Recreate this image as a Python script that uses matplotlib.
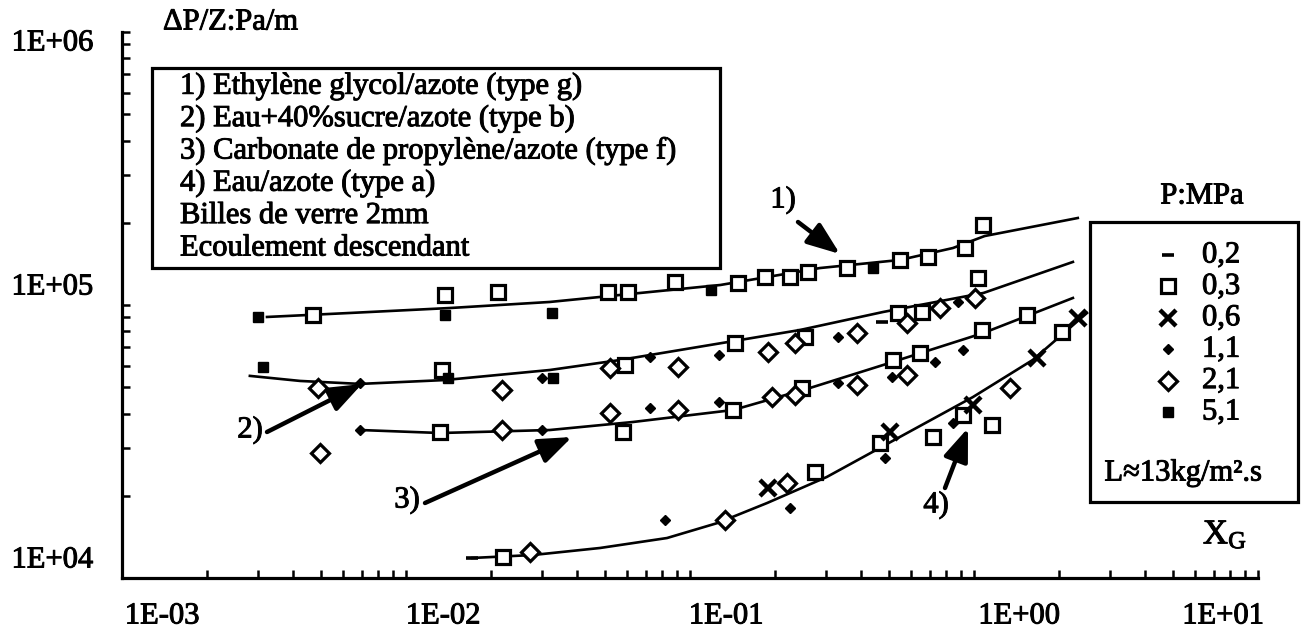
import numpy as np
import matplotlib
matplotlib.use('Agg')
import matplotlib.pyplot as plt
import matplotlib.transforms as mtransforms
import matplotlib.patheffects as pe
from matplotlib.patches import Rectangle
from matplotlib.lines import Line2D

plt.rcParams['font.family'] = ['Liberation Serif', 'DejaVu Serif']
plt.rcParams['mathtext.fontset'] = 'custom'
plt.rcParams['mathtext.rm'] = 'Liberation Serif'
plt.rcParams['mathtext.it'] = 'Liberation Serif:italic'

W, H = 1305, 633
FS = 22
# scanned print looks a bit heavier than a plain serif
INK = [pe.withStroke(linewidth=0.7, foreground='k')]

# pressure classes P (MPa), one marker per class
pressures = ['0,2', '0,3', '0,6', '1,1', '2,1', '5,1']
styles = {
    '0,2': dict(marker='_', ms=9, mew=2.6, mfc='k', mec='k'),
    '0,3': dict(marker='s', ms=10, mew=2.3, mfc='white', mec='k'),
    '0,6': dict(marker='x', ms=12, mew=3.2, mec='k'),
    '1,1': dict(marker='D', ms=5, mew=1, mfc='k', mec='k'),
    '2,1': dict(marker='D', ms=9, mew=2.3, mfc='white', mec='k'),
    '5,1': dict(marker='s', ms=7, mew=1, mfc='k', mec='k'),
}

# 1) ethylene glycol / azote
eg_x = [0.00301, 0.00470, 0.0137, 0.0137, 0.0211, 0.0327, 0.0514, 0.0605, 0.0885, 0.119,
        0.148, 0.184, 0.225, 0.260, 0.357, 0.441, 0.548, 0.689, 0.929, 1.08]
eg_y = [90400, 91900, 108800, 91900, 111600, 93500, 111600, 111600, 121400, 113500,
        120400, 126600, 126600, 132100, 136600, 136600, 146200, 149900, 161700, 196300]
eg_p = ['5,1', '0,3', '0,3', '5,1', '0,3', '5,1', '0,3', '0,3', '0,3', '5,1',
        '0,3', '0,3', '0,3', '0,3', '0,3', '5,1', '0,3', '0,3', '0,3', '0,3']
eg_fit_x = [0.00324, 0.00635, 0.0143, 0.0321, 0.0723, 0.128, 0.287, 0.548, 0.843, 1.09, 2.32]
eg_fit_y = [90400, 93500, 97500, 102600, 111600, 118400, 136600, 146200, 161700, 178900, 208300]

# 2) eau + 40% sucre / azote
su_x = [0.00314, 0.00490, 0.00498, 0.00689, 0.0134, 0.0141, 0.0218, 0.0301, 0.0330, 0.0522,
        0.0590, 0.0723, 0.0908, 0.126, 0.144, 0.188, 0.234, 0.254, 0.332, 0.387,
        0.474, 0.540, 0.581, 0.656, 0.759, 0.879, 1.01, 1.03]
su_y = [59300, 49700, 28700, 51800, 57800, 54000, 48800, 54000, 54000, 58800,
        60300, 64500, 59300, 65600, 72600, 67300, 72600, 76400, 76400, 79000,
        86600, 93500, 85900, 94300, 97500, 102600, 106100, 125600]
su_p = ['5,1', '2,1', '2,1', '1,1', '0,3', '5,1', '2,1', '1,1', '5,1', '2,1',
        '0,3', '1,1', '2,1', '1,1', '0,3', '2,1', '2,1', '0,3', '1,1', '2,1',
        '0,2', '0,3', '2,1', '0,3', '2,1', '1,1', '2,1', '0,3']
su_fit_x = [0.00282, 0.00424, 0.00689, 0.0137, 0.0321, 0.0568, 0.118, 0.244, 0.479, 1.08, 2.23]
su_fit_y = [55000, 52700, 51400, 53100, 57800, 62900, 71400, 81000, 94300, 110700, 143800]

# 3) carbonate de propylene / azote
ca_x = [0.00689, 0.0132, 0.0218, 0.0301, 0.0522, 0.0581, 0.0723, 0.0908, 0.126, 0.142,
        0.195, 0.234, 0.248, 0.332, 0.387, 0.519, 0.514, 0.581, 0.646, 0.730,
        0.914, 1.07, 1.54]
ca_y = [34840, 34260, 34840, 34840, 40220, 34260, 41950, 41250, 44100, 41250,
        46000, 46800, 49700, 51800, 50900, 62900, 54500, 55400, 66700, 61800,
        68400, 81000, 91900]
ca_p = ['1,1', '0,3', '2,1', '1,1', '2,1', '0,3', '1,1', '2,1', '1,1', '0,3',
        '2,1', '2,1', '0,3', '1,1', '2,1', '0,3', '1,1', '2,1', '0,3', '1,1',
        '1,1', '0,3', '0,3']
ca_fit_x = [0.00689, 0.0132, 0.0321, 0.0630, 0.142, 0.265, 0.479, 1.08, 2.23]
ca_fit_y = [34840, 33970, 34840, 37280, 41250, 49700, 60300, 79000, 106100]

# 4) eau / azote
ea_x = [0.0171, 0.0220, 0.0274, 0.0817, 0.133, 0.188, 0.220, 0.225, 0.275, 0.467,
        0.506, 0.486, 0.718, 0.843, 0.914, 0.991, 1.16, 1.34, 1.67, 2.04, 2.32]
ea_y = [11840, 11940, 12450, 16310, 16310, 21360, 22280, 18050, 24450, 31230,
        34260, 27520, 32850, 36970, 39540, 43000, 36340, 49700, 63900, 79600, 89600]
ea_p = ['0,2', '0,3', '2,1', '1,1', '2,1', '0,6', '2,1', '1,1', '0,3', '0,3',
        '0,6', '1,1', '0,3', '1,1', '0,3', '0,6', '0,3', '2,1', '0,6', '0,3', '0,6']
ea_fit_x = [0.0171, 0.0280, 0.0482, 0.0830, 0.125, 0.187, 0.303, 0.548, 0.991, 1.61, 2.50]
ea_fit_y = [11840, 12140, 12880, 14010, 15900, 18830, 23440, 32850, 46000, 62900, 93500]

x_ticks = [1e-3, 1e-2, 1e-1, 1e0, 1e1]
y_ticks = [1e4, 1e5, 1e6]
box_lines = ['1) Ethylène glycol/azote (type g)',
             '2) Eau+40%sucre/azote (type b)',
             '3) Carbonate de propylène/azote (type f)',
             '4) Eau/azote (type a)',
             'Billes de verre 2mm',
             'Ecoulement descendant']


def fx(px):
    return px / W


def fy(py):
    return 1 - py / H


def label(x, y, s, **kw):
    kw.setdefault('fontsize', FS)
    return fig.text(fx(x), fy(y), s, path_effects=INK, **kw)


fig = plt.figure(figsize=(W / 100, H / 100), dpi=100)
ax = fig.add_axes([fx(122), fy(578), (1258 - 122) / W, (578 - 32) / H])
ax.set_xscale('log')
ax.set_yscale('log')
ax.set_xlim(1e-3, 1e1)
ax.set_ylim(1e4, 1e6)
for s in ['top', 'right']:
    ax.spines[s].set_visible(False)
for s in ['left', 'bottom']:
    ax.spines[s].set_linewidth(2.3)
ax.tick_params(which='both', direction='in', length=6, width=1.8,
               labelbottom=False, labelleft=False)

series = [(eg_x, eg_y, eg_p, eg_fit_x, eg_fit_y),
          (su_x, su_y, su_p, su_fit_x, su_fit_y),
          (ca_x, ca_y, ca_p, ca_fit_x, ca_fit_y),
          (ea_x, ea_y, ea_p, ea_fit_x, ea_fit_y)]
for xs, ys, ps, fxs, fys in series:
    ax.plot(fxs, fys, '-', color='k', lw=1.9, zorder=2)
    xs, ys, ps = np.array(xs), np.array(ys), np.array(ps)
    for p in pressures:
        m = ps == p
        if m.any():
            ax.plot(xs[m], ys[m], ls='none', zorder=3, clip_on=False, **styles[p])

# tick labels: left-aligned on their tick, last one kept inside the axis
x_dx = [40, 37, 36, 45, -35]
for v, dx in zip(x_ticks, x_dx):
    tr = mtransforms.blended_transform_factory(ax.transData, ax.transAxes) + \
        mtransforms.ScaledTranslation(dx / 100, -38 / 100, fig.dpi_scale_trans)
    ax.text(v, 0, '{:.0E}'.format(v), transform=tr, ha='center', va='center',
            fontsize=FS, path_effects=INK)
y_dy = [18, 18, -11]
for v, dy in zip(y_ticks, y_dy):
    tr = mtransforms.blended_transform_factory(ax.transAxes, ax.transData) + \
        mtransforms.ScaledTranslation(-29 / 100, dy / 100, fig.dpi_scale_trans)
    ax.text(0, v, '{:.0E}'.format(v), transform=tr, ha='right', va='center',
            fontsize=FS, path_effects=INK)

label(163, 22, 'ΔP/Z:Pa/m', ha='left', va='center')
label(1225, 535, r'X$_\mathrm{G}$', ha='center', va='center', fontsize=FS + 3)

# description box
fig.add_artist(Rectangle((fx(152), fy(268)), (720 - 152) / W, (268 - 68) / H,
                         transform=fig.transFigure, fill=False, lw=2.3, color='k'))
for i, line in enumerate(box_lines):
    label(180, 86 + 32.4 * i, line, ha='left', va='center')

# pressure key
label(1202, 196, 'P:MPa', ha='center', va='center')
fig.add_artist(Rectangle((fx(1090), fy(502)), (1298 - 1090) / W, (502 - 222) / H,
                         transform=fig.transFigure, fill=False, lw=2.3, color='k'))
for i, p in enumerate(pressures):
    yy = 255 + 31.4 * i
    fig.add_artist(Line2D([fx(1168)], [fy(yy)], transform=fig.transFigure, ls='none', **styles[p]))
    label(1202, yy, p, ha='left', va='center')
label(1183, 473, 'L≈13kg/m².s', ha='center', va='center')

# curve labels with arrows
arrows = [('1)', (783, 200), (798, 222), (840, 254)),
          ('2)', (250, 430), (267, 432), (362, 384)),
          ('3)', (407, 500), (425, 503), (572, 437)),
          ('4)', (936, 505), (945, 488), (968, 428))]
for lab, tpos, tail, tip in arrows:
    label(tpos[0], tpos[1], lab, ha='center', va='center')
    ax.annotate('', xy=(tip[0], H - tip[1]), xytext=(tail[0], H - tail[1]),
                xycoords='figure pixels', textcoords='figure pixels',
                arrowprops=dict(arrowstyle='-|>,head_length=1.0,head_width=0.38',
                                lw=3.2, color='k', mutation_scale=20,
                                shrinkA=0, shrinkB=0))

fig.savefig('out.png', dpi=100, facecolor='white')
